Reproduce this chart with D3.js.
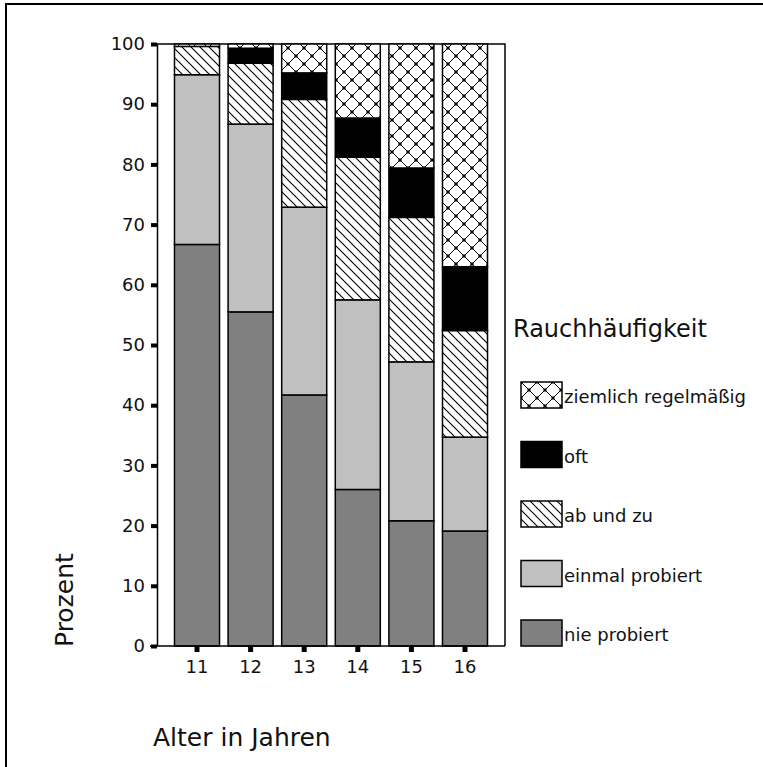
<!DOCTYPE html>
<html>
<head>
<meta charset="utf-8">
<script src="https://cdn.jsdelivr.net/npm/d3@7"></script>
<style>
  html, body { margin: 0; padding: 0; background: #fff; }
  svg { display: block; }
  text { font-family: "DejaVu Sans", "Liberation Sans", Arial, sans-serif; fill: #111; }
</style>
</head>
<body>
<svg id="chart" width="763" height="767"></svg>
<script>
// ---- data (percent per age group, stacked bottom to top) ----
const ages = ["11", "12", "13", "14", "15", "16"];
const nieProbiert      = [66.7, 55.5, 41.7, 26.0, 20.8, 19.1];
const einmalProbiert   = [28.2, 31.2, 31.2, 31.5, 26.4, 15.6];
const abUndZu          = [ 4.7, 10.1, 17.9, 23.7, 24.0, 17.7];
const oft              = [ 0.0,  2.5,  4.4,  6.5,  8.2, 10.6];
const ziemlichRegelm   = [ 0.4,  0.7,  4.8, 12.3, 20.6, 37.0];
const seriesKeys   = ["nie", "einmal", "ab", "oft", "ziemlich"];
const seriesLabels = ["nie probiert", "einmal probiert", "ab und zu", "oft", "ziemlich regelmäßig"];
const yTicks = [0, 10, 20, 30, 40, 50, 60, 70, 80, 90, 100];
const legendTitle = "Rauchhäufigkeit";
const xTitle = "Alter in Jahren";
const yTitle = "Prozent";

const rows = ages.map((a, i) => ({
  age: a, nie: nieProbiert[i], einmal: einmalProbiert[i], ab: abUndZu[i],
  oft: oft[i], ziemlich: ziemlichRegelm[i]
}));

const svg = d3.select("#chart");
const defs = svg.append("defs");

// diagonal hatch "\\"
const hatch = defs.append("pattern").attr("id", "hatch")
  .attr("patternUnits", "userSpaceOnUse").attr("width", 9).attr("height", 9);
hatch.append("rect").attr("width", 9).attr("height", 9).attr("fill", "#fff");
hatch.append("path").attr("d", "M-1,-1 L10,10 M-1,8 L1,10 M8,-1 L10,1")
  .attr("stroke", "#000").attr("stroke-width", 1.1).attr("fill", "none");

// cross hatch with dots
const cross = defs.append("pattern").attr("id", "cross")
  .attr("patternUnits", "userSpaceOnUse").attr("width", 16).attr("height", 16);
cross.append("rect").attr("width", 16).attr("height", 16).attr("fill", "#fff");
cross.append("path").attr("d", "M0,0 L16,16 M16,0 L0,16")
  .attr("stroke", "#000").attr("stroke-width", 1).attr("fill", "none");
[[0,0],[16,0],[0,16],[16,16],[8,8]].forEach(([cx, cy]) => {
  cross.append("rect").attr("x", cx - 1.5).attr("y", cy - 1.5)
    .attr("width", 3).attr("height", 3).attr("fill", "#000");
});

const fills = { nie: "#808080", einmal: "#c0c0c0", ab: "url(#hatch)", oft: "#000", ziemlich: "url(#cross)" };

// outer frame
svg.append("rect").attr("x", 6).attr("y", 4).attr("width", 900).attr("height", 900)
  .attr("fill", "none").attr("stroke", "#000").attr("stroke-width", 2);

// scales
const x = d3.scaleBand().domain(ages).range([170.2, 491.8]).paddingInner(0.16).paddingOuter(0.08);
const y = d3.scaleLinear().domain([0, 100]).range([646, 44]);

const plotLeft = 157, plotRight = 505;

// plot frame (top + right)
svg.append("path")
  .attr("d", `M${plotLeft},${y(100)} H${plotRight} V${y(0)}`)
  .attr("fill", "none").attr("stroke", "#000").attr("stroke-width", 1.5);

// bars
const stacked = d3.stack().keys(seriesKeys)(rows);
svg.append("g").selectAll("g").data(stacked).join("g")
  .attr("fill", d => fills[d.key])
  .selectAll("rect").data(d => d).join("rect")
  .attr("x", d => x(d.data.age))
  .attr("width", x.bandwidth())
  .attr("y", d => y(d[1]))
  .attr("height", d => y(d[0]) - y(d[1]))
  .attr("stroke", "#000").attr("stroke-width", 1.5)
  .attr("display", d => (d[1] - d[0]) > 0 ? null : "none");

// y axis
const yAxis = svg.append("g").attr("transform", `translate(${plotLeft},0)`)
  .call(d3.axisLeft(y).tickValues(yTicks).tickSize(6).tickSizeOuter(0).tickPadding(6));
yAxis.select(".domain").attr("stroke", "#000").attr("stroke-width", 1.5);
yAxis.selectAll(".tick line").attr("stroke", "#000").attr("stroke-width", 4);
yAxis.selectAll(".tick text").style("font-size", "18px").attr("fill", "#111")
  .style("font-family", '"DejaVu Sans", sans-serif');

// x axis
const xAxis = svg.append("g").attr("transform", `translate(0,${y(0)})`)
  .call(d3.axisBottom(x).tickSize(6).tickSizeOuter(0).tickPadding(8));
xAxis.select(".domain").remove();
xAxis.selectAll(".tick line").attr("stroke", "#000").attr("stroke-width", 5);
xAxis.selectAll(".tick text").style("font-size", "18px").attr("fill", "#111")
  .style("font-family", '"DejaVu Sans", sans-serif');
svg.append("line").attr("x1", 150).attr("x2", plotRight).attr("y1", y(0)).attr("y2", y(0))
  .attr("stroke", "#000").attr("stroke-width", 1.5);

// axis titles
svg.append("text").attr("x", 153).attr("y", 746).style("font-size", "25px").text(xTitle);
svg.append("text").attr("transform", "translate(73,647) rotate(-90)")
  .attr("text-anchor", "start").style("font-size", "25px").text(yTitle);

// legend
svg.append("text").attr("x", 513).attr("y", 337).style("font-size", "24px").text(legendTitle);
const legendOrder = seriesKeys.slice().reverse();
const lg = svg.append("g").selectAll("g").data(legendOrder).join("g")
  .attr("transform", (d, i) => `translate(521,${382 + i * 59.5})`);
lg.append("rect").attr("width", 41).attr("height", 26)
  .attr("fill", d => fills[d]).attr("stroke", "#000").attr("stroke-width", 1.5);
lg.append("text").attr("x", 43).attr("y", 21).style("font-size", "18px")
  .text(d => seriesLabels[seriesKeys.indexOf(d)]);
</script>
</body>
</html>
